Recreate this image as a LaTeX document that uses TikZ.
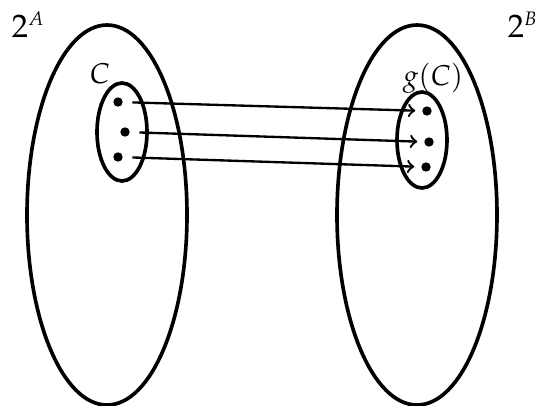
\documentclass[tikz,border=0pt]{standalone}
\usepackage{mathpazo}
\begin{document}
\begin{tikzpicture}[x=0.0135cm,y=-0.0135cm,line width=1.4pt,
  dot/.style={circle,fill,inner sep=0pt,minimum size=3.6pt},
  lbl/.style={anchor=base west,inner sep=0pt},
  pow/.style={lbl,font=\fontsize{12.5}{15}\selectfont},
  map/.style={->,line width=0.9pt,shorten <=3pt,shorten >=2pt}]
\useasboundingbox (0,0) rectangle (535,406);
\draw (107,215) ellipse (80 and 190);
\draw (417,215) ellipse (80 and 190);
\draw (122,132) ellipse (25 and 49);
\draw (422,140) ellipse (25 and 48);
\node[pow] (pa) at (10,37) {$2^{\scriptscriptstyle A}$};
\node[pow] (pb) at (506,37) {$2^{\scriptscriptstyle B}$};
\node[lbl] (c) at (88,83) {\fontsize{11}{13}\selectfont$C$};
\node[lbl] (gc) at (401,85) {\fontsize{11}{13}\selectfont$g(C)$};
\node[dot] (a1) at (118,102) {};\node[dot] (a2) at (125,132) {};\node[dot] (a3) at (118,157) {};
\node[dot] (b1) at (427,111) {};\node[dot] (b2) at (429,142) {};\node[dot] (b3) at (426,167) {};
\draw[map] (a1)--(b1);\draw[map] (a2)--(b2);\draw[map] (a3)--(b3);
\end{tikzpicture}
\end{document}
